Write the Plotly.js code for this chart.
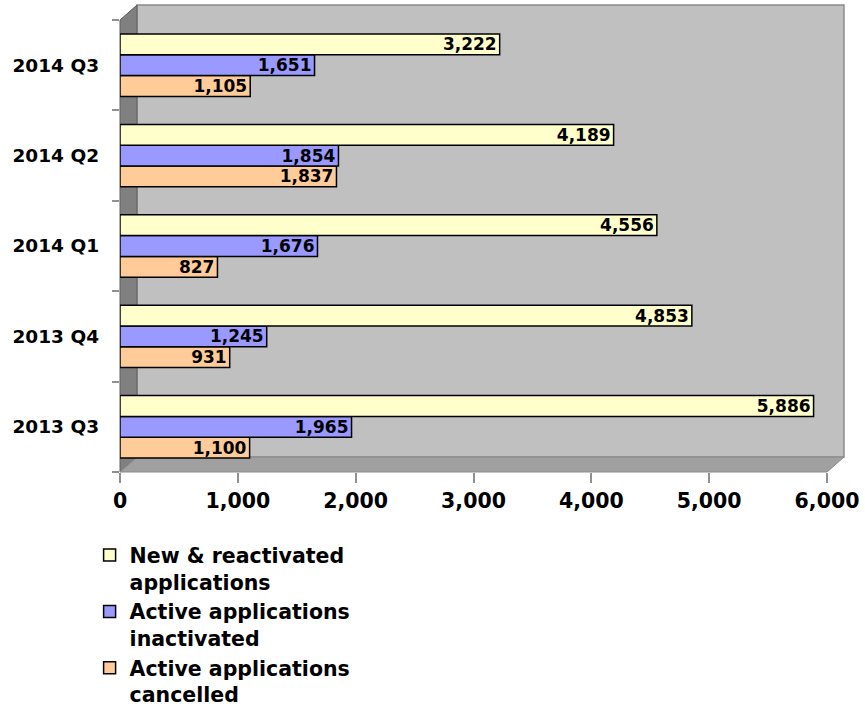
<!DOCTYPE html>
<html>
<head>
<meta charset="utf-8">
<script src="https://cdn.plot.ly/plotly-3.0.1.min.js"></script>
<style>html,body{margin:0;padding:0;background:#fff;}#chart{width:865px;height:719px;}</style>
</head>
<body>
<div id="chart"></div>
<script>
var categories = ['2013 Q3', '2013 Q4', '2014 Q1', '2014 Q2', '2014 Q3'];
var newReactivated = [5886, 4853, 4556, 4189, 3222];
var inactivated = [1965, 1245, 1676, 1854, 1651];
var cancelled = [1100, 931, 827, 1837, 1105];
var seriesNames = ['New &amp; reactivated<br>applications', 'Active applications<br>inactivated', 'Active applications<br>cancelled'];
var xTicks = [0, 1000, 2000, 3000, 4000, 5000, 6000];

var FONT = 'DejaVu Sans, Verdana, sans-serif';

function barTrace(vals, name, color, group) {
  return {
    type: 'bar', orientation: 'h', y: categories, x: vals, name: name, legendgroup: group,
    marker: {color: color, line: {color: '#000000', width: 1.5}},
    texttemplate: '%{x:,}', textposition: 'inside', insidetextanchor: 'end',
    textangle: 0, constraintext: 'none',
    insidetextfont: {family: FONT, size: 17, color: '#000000', weight: 'bold'},
    hoverinfo: 'skip', cliponaxis: false
  };
}

var data = [
  barTrace(cancelled, seriesNames[2], '#FFCC99', 'g3'),
  barTrace(inactivated, seriesNames[1], '#9999FF', 'g2'),
  barTrace(newReactivated, seriesNames[0], '#FFFFCC', 'g1')
];

var dx = 0.024, dy = 0.033;
var layout = {
  width: 865, height: 719,
  margin: {l: 120, r: 38, t: 20, b: 247, autoexpand: false},
  paper_bgcolor: '#ffffff', plot_bgcolor: 'rgba(0,0,0,0)',
  barmode: 'group', bargap: 0.31, bargroupgap: 0,
  font: {family: FONT, color: '#000000', weight: 'bold'},
  showlegend: true,
  legend: {
    orientation: 'v', x: -0.043, xanchor: 'left', y: -0.14, yanchor: 'top',
    traceorder: 'reversed', valign: 'top', tracegroupgap: 4, itemwidth: 30,
    font: {family: FONT, size: 20.5, color: '#000000', weight: 'bold'},
    bgcolor: 'rgba(0,0,0,0)'
  },
  xaxis: {
    range: [0, 6000], tickvals: xTicks, tickformat: ',', showgrid: false, zeroline: false,
    showline: false, ticks: 'outside', ticklen: 10, tickwidth: 2, tickcolor: '#909090',
    tickfont: {family: FONT, size: 20.5, color: '#000000', weight: 'bold'}, fixedrange: true
  },
  yaxis: {
    type: 'category', tickson: 'boundaries', showgrid: false, zeroline: false,
    showline: false, ticks: 'outside', ticklen: 7, tickwidth: 2, tickcolor: '#909090',
    tickfont: {family: FONT, size: 18.5, color: '#000000', weight: 'bold'}, fixedrange: true,
    ticklabelstandoff: 20
  },
  shapes: [
    {type: 'rect', xref: 'paper', yref: 'paper', x0: dx, x1: 1 + dx, y0: dy, y1: 1 + dy,
     fillcolor: '#C0C0C0', line: {color: '#8a8a8a', width: 1.5}, layer: 'below'},
    {type: 'path', xref: 'paper', yref: 'paper',
     path: 'M 0 0 L 0 1 L ' + dx + ' ' + (1 + dy) + ' L ' + dx + ' ' + dy + ' Z',
     fillcolor: '#808080', line: {color: '#606060', width: 1}, layer: 'below'},
    {type: 'path', xref: 'paper', yref: 'paper',
     path: 'M 0 0 L 1 0 L ' + (1 + dx) + ' ' + dy + ' L ' + dx + ' ' + dy + ' Z',
     fillcolor: '#A0A0A0', line: {color: '#8a8a8a', width: 1}, layer: 'below'}
  ]
};

Plotly.newPlot('chart', data, layout, {staticPlot: true, displayModeBar: false});
</script>
</body>
</html>
